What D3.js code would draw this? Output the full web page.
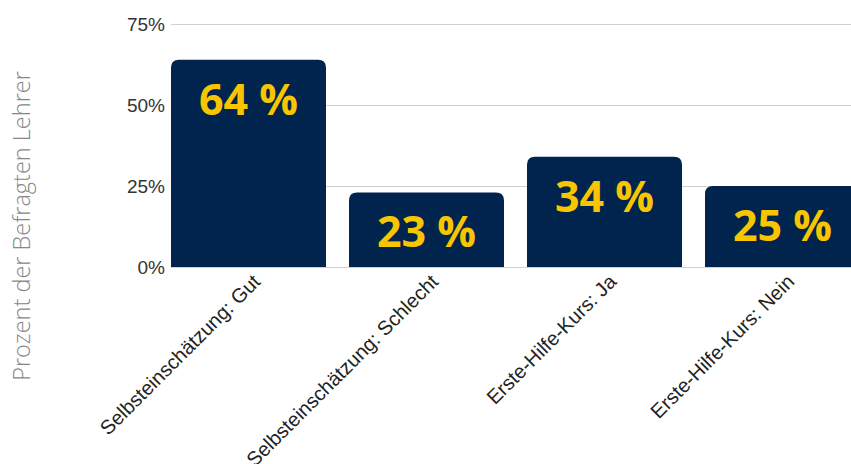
<!DOCTYPE html>
<html>
<head>
<meta charset="utf-8">
<script src="https://cdn.jsdelivr.net/npm/d3@7"></script>
<style>
  body { margin: 0; background: #fff; }
  svg { display: block; }
</style>
</head>
<body>
<div id="chart"></div>
<script>
// data
var categories = ["Selbsteinschätzung: Gut", "Selbsteinschätzung: Schlecht", "Erste-Hilfe-Kurs: Ja", "Erste-Hilfe-Kurs: Nein"];
var values = [64, 23, 34, 25];
var yTicks = [0, 25, 50, 75];
var yTitle = "Prozent der Befragten Lehrer";

var svgWidth = 851;
var svgHeight = 464;

var svg = d3.select("#chart").append("svg")
  .attr("width", svgWidth)
  .attr("height", svgHeight);

// plot box (right side runs past the window, like the original)
var plotLeft = 171, plotTop = 24, plotBottom = 267, plotRight = 860;

var x = d3.scaleBand()
  .domain(categories)
  .range([plotLeft, plotRight])
  .paddingInner(23 / 178)
  .paddingOuter(0);

var y = d3.scaleLinear()
  .domain([0, 75])
  .range([plotBottom, plotTop]);

// gridlines + tick labels
var yAxis = d3.axisLeft(y)
  .tickValues(yTicks)
  .tickFormat(function (d) { return d + "%"; })
  .tickSize(-(svgWidth - plotLeft))
  .tickPadding(6);

var gy = svg.append("g")
  .attr("transform", "translate(" + plotLeft + ",0)")
  .call(yAxis);
gy.select(".domain").remove();
gy.selectAll(".tick line").attr("stroke", "#d0d0d0").attr("stroke-width", 1);
gy.selectAll(".tick text")
  .attr("font-family", "'Liberation Sans', Arial, sans-serif")
  .attr("font-size", 19)
  .attr("fill", "#333");

// bars with rounded tops
var r = 8;
function barPath(d, i) {
  var x0 = x(categories[i]), w = x.bandwidth();
  var y0 = y(d), y1 = y(0);
  return "M" + x0 + "," + y1 +
    "V" + (y0 + r) +
    "Q" + x0 + "," + y0 + " " + (x0 + r) + "," + y0 +
    "H" + (x0 + w - r) +
    "Q" + (x0 + w) + "," + y0 + " " + (x0 + w) + "," + (y0 + r) +
    "V" + y1 + "Z";
}

svg.append("g").selectAll("path")
  .data(values)
  .enter().append("path")
  .attr("d", barPath)
  .attr("fill", "#01244f");

// value labels
svg.append("g").selectAll("text")
  .data(values)
  .enter().append("text")
  .attr("x", function (d, i) { return x(categories[i]) + x.bandwidth() / 2; })
  .attr("y", function (d) { return y(d) + 55; })
  .attr("text-anchor", "middle")
  .attr("font-family", "'Open Sans', sans-serif")
  .attr("font-weight", 700)
  .attr("font-size", 43)
  .attr("fill", "#f7c600")
  .text(function (d) { return d + " %"; });

// category labels, rotated
svg.append("g").selectAll("text")
  .data(categories)
  .enter().append("text")
  .attr("transform", function (d) {
    var cx = x(d) + x.bandwidth() / 2;
    return "translate(" + (cx + 13) + "," + 283 + ") rotate(-45)";
  })
  .attr("text-anchor", "end")
  .attr("font-family", "'Liberation Sans', Arial, sans-serif")
  .attr("font-size", 20)
  .attr("fill", "#222")
  .text(function (d) { return d; });

// y title
svg.append("text")
  .attr("transform", "translate(30,226) rotate(-90)")
  .attr("text-anchor", "middle")
  .attr("font-family", "'Open Sans', sans-serif")
  .attr("font-weight", 300)
  .attr("font-size", 23.5)
  .attr("fill", "#888")
  .text(yTitle);
</script>
</body>
</html>
